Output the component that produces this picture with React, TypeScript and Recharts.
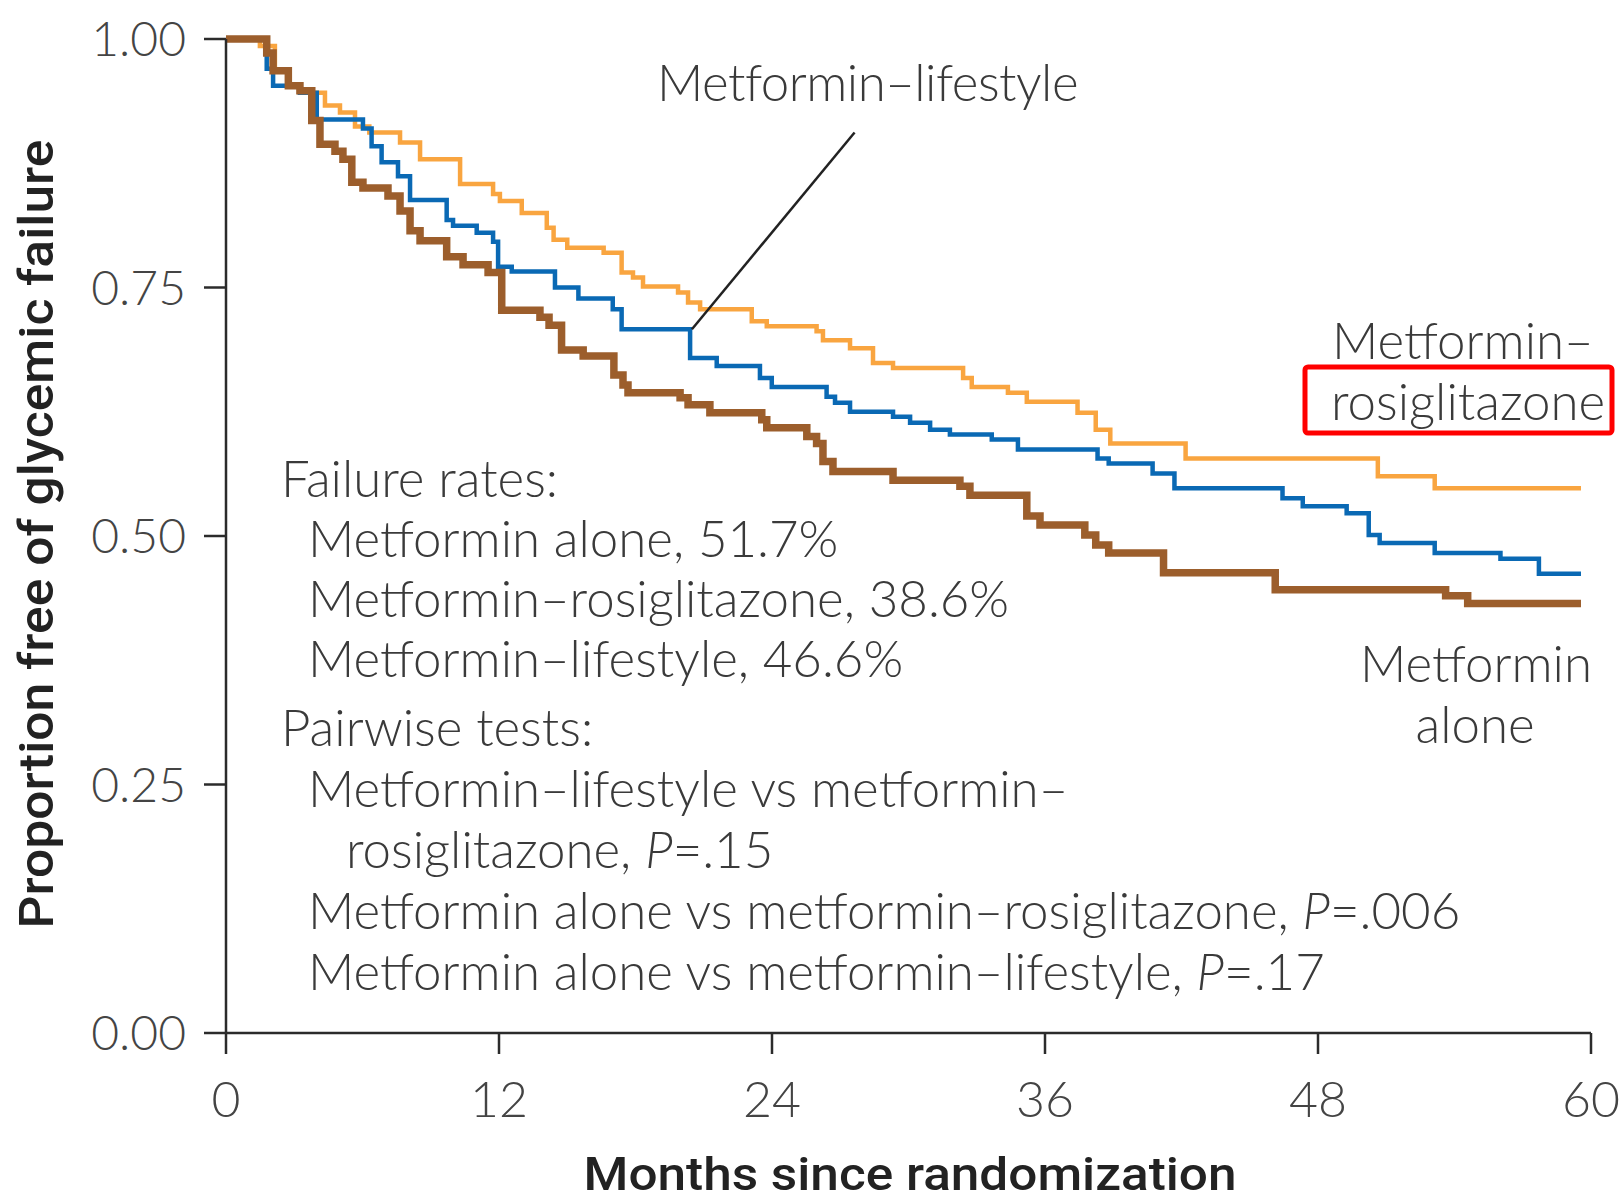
import React from 'react';
import { LineChart, Line, XAxis, YAxis, ReferenceLine } from 'recharts';

// Kaplan-Meier steps: [month, proportion free of failure]
const metforminAlone: [number, number][] = [
  [0, 1.0], [1.79, 0.986], [2.07, 0.968], [2.74, 0.953], [3.25, 0.948], [3.77, 0.918],
  [4.13, 0.894], [4.79, 0.887], [5.14, 0.879], [5.53, 0.856], [6.02, 0.85], [7.12, 0.842],
  [7.65, 0.827], [8.09, 0.807], [8.53, 0.797], [9.7, 0.781], [10.42, 0.773], [11.52, 0.765],
  [12.12, 0.727], [13.8, 0.72], [14.2, 0.712], [14.75, 0.687], [15.7, 0.681], [17.05, 0.662],
  [17.45, 0.652], [17.67, 0.644], [19.96, 0.639], [20.31, 0.632], [21.27, 0.624], [23.55, 0.617],
  [23.77, 0.609], [25.53, 0.6], [25.96, 0.593], [26.24, 0.575], [26.68, 0.565], [29.32, 0.556],
  [32.26, 0.55], [32.7, 0.541], [35.2, 0.52], [35.78, 0.511], [37.75, 0.501], [38.23, 0.491],
  [38.8, 0.483], [41.21, 0.463], [46.12, 0.446], [53.61, 0.44], [54.58, 0.432], [59.56, 0.432],
];

const metforminRosiglitazone: [number, number][] = [
  [0, 1.0], [1.49, 0.993], [2.15, 0.968], [2.74, 0.953], [3.25, 0.946], [4.35, 0.933],
  [5.01, 0.926], [5.67, 0.912], [6.3, 0.906], [7.65, 0.896], [8.53, 0.879], [10.29, 0.854],
  [11.74, 0.844], [12.04, 0.837], [13.0, 0.825], [14.1, 0.81], [14.4, 0.798], [15.0, 0.79],
  [16.6, 0.785], [17.39, 0.765], [17.89, 0.76], [18.33, 0.751], [19.87, 0.745], [20.31, 0.735],
  [20.84, 0.728], [23.11, 0.716], [23.77, 0.711], [25.96, 0.706], [26.24, 0.697], [27.43, 0.689],
  [28.44, 0.674], [29.32, 0.669], [32.4, 0.659], [32.78, 0.65], [34.37, 0.644], [35.2, 0.635],
  [37.43, 0.624], [38.23, 0.607], [38.87, 0.593], [42.18, 0.578], [50.63, 0.56], [53.13, 0.548],
  [59.56, 0.548],
];

const metforminLifestyle: [number, number][] = [
  [0, 1.0], [1.79, 0.97], [2.07, 0.953], [3.25, 0.946], [3.99, 0.919], [6.02, 0.91],
  [6.4, 0.892], [6.84, 0.876], [7.56, 0.862], [8.09, 0.838], [9.7, 0.818], [9.98, 0.812],
  [11.02, 0.805], [11.74, 0.796], [11.96, 0.771], [12.56, 0.766], [14.46, 0.75], [15.49, 0.739],
  [17.0, 0.728], [17.39, 0.708], [20.4, 0.679], [21.57, 0.671], [23.47, 0.659], [23.99, 0.65],
  [26.4, 0.64], [26.77, 0.634], [27.43, 0.625], [29.32, 0.62], [30.07, 0.614], [30.95, 0.607],
  [31.82, 0.602], [33.66, 0.597], [34.81, 0.587], [38.31, 0.578], [38.8, 0.573], [40.73, 0.563],
  [41.69, 0.548], [46.44, 0.538], [47.33, 0.53], [49.26, 0.523], [50.23, 0.501], [50.71, 0.493],
  [53.13, 0.483], [56.02, 0.477], [57.71, 0.462], [59.56, 0.462],
];

const xTicks = [0, 12, 24, 36, 48, 60];
const yTicks = [0, 0.25, 0.5, 0.75, 1];

// leader line from the "Metformin–lifestyle" label down to its curve
const pointer = [
  { x: 27.63, y: 0.906 },
  { x: 20.48, y: 0.708 },
];

const rows = (pts: [number, number][]) => pts.map(([month, value]) => ({ month, value }));

const textFont = "Lato, 'Open Sans', sans-serif";
const titleFont = "Roboto, 'DejaVu Sans Condensed', sans-serif";
const ink = '#3a3a3a';

export default function App() {
  return (
    <div style={{ position: 'absolute', left: 0, top: 0, width: 1624, height: 1203, background: '#fff' }}>
      <LineChart width={1624} height={1203} margin={{ top: 39, right: 33, bottom: 0, left: 0 }}>
        <XAxis
          type="number"
          dataKey="month"
          domain={[0, 60]}
          ticks={xTicks}
          height={170}
          tickSize={21}
          tickMargin={27}
          stroke="#2b2b2b"
          strokeWidth={2.5}
          tick={{ fill: '#444', fontSize: 50, fontFamily: textFont, fontWeight: 300 }}
          interval={0}
        />
        <YAxis
          type="number"
          domain={[0, 1]}
          ticks={yTicks}
          width={226}
          tickSize={22}
          tickMargin={18}
          stroke="#2b2b2b"
          strokeWidth={2.5}
          tickFormatter={(v: number) => v.toFixed(2)}
          tick={{ fill: '#444', fontSize: 48, fontFamily: textFont, fontWeight: 300 }}
          interval={0}
        />
        <Line
          data={rows(metforminRosiglitazone)}
          dataKey="value"
          type="stepAfter"
          stroke="#F9A540"
          strokeWidth={4.5}
          dot={false}
          activeDot={false}
          isAnimationActive={false}
        />
        <Line
          data={rows(metforminLifestyle)}
          dataKey="value"
          type="stepAfter"
          stroke="#0A69B4"
          strokeWidth={4.5}
          dot={false}
          activeDot={false}
          isAnimationActive={false}
        />
        <Line
          data={rows(metforminAlone)}
          dataKey="value"
          type="stepAfter"
          stroke="#9C5E2C"
          strokeWidth={7.5}
          dot={false}
          activeDot={false}
          isAnimationActive={false}
        />
        <ReferenceLine segment={pointer} stroke="#222" strokeWidth={2.5} ifOverflow="visible" />
      </LineChart>

      <svg
        width={1624}
        height={1203}
        style={{ position: 'absolute', left: 0, top: 0, pointerEvents: 'none' }}
      >
        <g fontFamily={textFont} fontSize={51} fill={ink} fontWeight={300}>
          <text x={657} y={101} letterSpacing={-0.5}>Metformin–lifestyle</text>

          <text x={281} y={497}>Failure rates:</text>
          <text x={308} y={557}>Metformin alone, 51.7%</text>
          <text x={308} y={617}>Metformin–rosiglitazone, 38.6%</text>
          <text x={308} y={677}>Metformin–lifestyle, 46.6%</text>
          <text x={281} y={746}>Pairwise tests:</text>
          <text x={308} y={807}>Metformin–lifestyle vs metformin–</text>
          <text x={346} y={868}>
            rosiglitazone, <tspan fontStyle="italic">P</tspan>=.15
          </text>
          <text x={308} y={929}>
            Metformin alone vs metformin–rosiglitazone, <tspan fontStyle="italic">P</tspan>=.006
          </text>
          <text x={308} y={990}>
            Metformin alone vs metformin–lifestyle, <tspan fontStyle="italic">P</tspan>=.17
          </text>

          <text x={1332} y={359}>Metformin–</text>
          <text x={1331} y={420}>rosiglitazone</text>
          <text x={1476} y={682} textAnchor="middle">Metformin</text>
          <text x={1475} y={743} textAnchor="middle">alone</text>
        </g>

        <rect x={1305} y={367} width={307} height={66} rx={3} fill="none" stroke="#F00" strokeWidth={5} />

        <text
          x={910}
          y={1190}
          textAnchor="middle"
          fontFamily={titleFont}
          fontWeight={500}
          fontSize={47}
          fill="#222"
          textLength={653}
          lengthAdjust="spacingAndGlyphs"
        >
          Months since randomization
        </text>
        <text
          transform="translate(53 534) rotate(-90)"
          textAnchor="middle"
          fontFamily={titleFont}
          fontWeight={500}
          fontSize={48}
          fill="#222"
          textLength={789}
          lengthAdjust="spacingAndGlyphs"
        >
          Proportion free of glycemic failure
        </text>
      </svg>
    </div>
  );
}
